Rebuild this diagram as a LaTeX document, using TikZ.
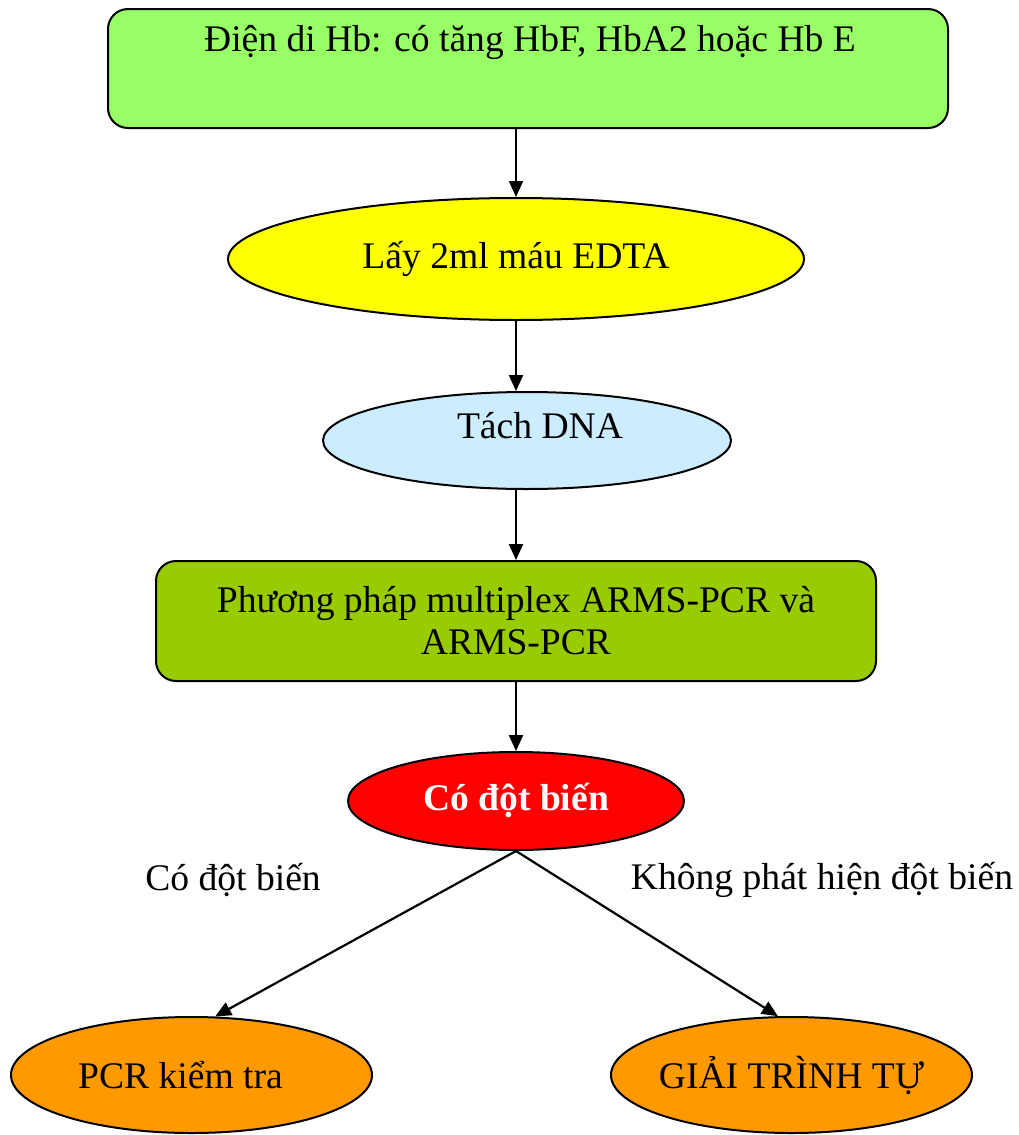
\documentclass[tikz,border=0pt]{standalone}
\usepackage{fontspec}
\setmainfont{Liberation Serif}
\usetikzlibrary{shapes.geometric,arrows.meta}
\definecolor{hbgreen}{HTML}{99FF66}
\definecolor{edtayellow}{HTML}{FFFF00}
\definecolor{dnablue}{HTML}{CCECFF}
\definecolor{pcrolive}{HTML}{99CC00}
\definecolor{mutred}{HTML}{FF0000}
\definecolor{resorange}{HTML}{FF9900}
\begin{document}
\begin{tikzpicture}[x=1pt,y=-1pt,
  every node/.style={font=\fontsize{37.6}{42}\selectfont, inner sep=0pt},
  stagebox/.style={draw, line width=2pt, rounded corners=20pt, align=center},
  oval/.style={draw, ellipse, line width=2pt, inner sep=0pt, align=center},
  flow/.style={line width=2.2pt, -{Triangle[length=16pt,width=14pt]}}]
\useasboundingbox (0,0) rectangle (1019,1135);

% process stages
\node[stagebox, fill=hbgreen, minimum width=840, minimum height=119] (hb) at (528,68.5) {};
\node (hbtext) at (530,42) {Điện di Hb: có tăng HbF, HbA2 hoặc Hb E};

\node[oval, fill=edtayellow, minimum width=576, minimum height=122] (edta) at (516,259) {Lấy 2ml máu EDTA};

\node[oval, fill=dnablue, minimum width=408, minimum height=97] (dna) at (527,440.5) {};
\node (dnatext) at (540,426) {Tách DNA};

\node[stagebox, fill=pcrolive, minimum width=720, minimum height=120] (arms) at (516,621)
  {Phương pháp multiplex ARMS-PCR và\\ARMS-PCR};

\node[oval, fill=mutred, minimum width=336, minimum height=98,
  text=white, font=\fontsize{37.6}{42}\selectfont\bfseries] (mut) at (516,801) {Có đột biến};

% result ovals: labels kept zero-width so the oval keeps its set size
\node[oval, fill=resorange, minimum width=361, minimum height=116] (check) at (191.5,1075)
  {\makebox[0pt]{\hspace*{-22pt}PCR kiểm tra}};
\node[oval, fill=resorange, minimum width=361, minimum height=116] (seq) at (791.5,1075)
  {\makebox[0pt]{GIẢI TRÌNH TỰ}};

% branch labels
\node (yeslbl) at (233,880) {Có đột biến};
\node (nolbl) at (822,880) {Không phát hiện đột biến};

% connectors
\draw[flow] (hb.south -| edta.north) -- (edta.north);
\draw[flow] (edta.south) -- (dna.north -| edta.south);
\draw[flow] (dna.south -| edta.south) -- (arms.north);
\draw[flow] (arms.south) -- (mut.north);
\draw[flow] (mut.south) -- (check.68);
\draw[flow] (mut.south) -- (seq.103);
\end{tikzpicture}
\end{document}
